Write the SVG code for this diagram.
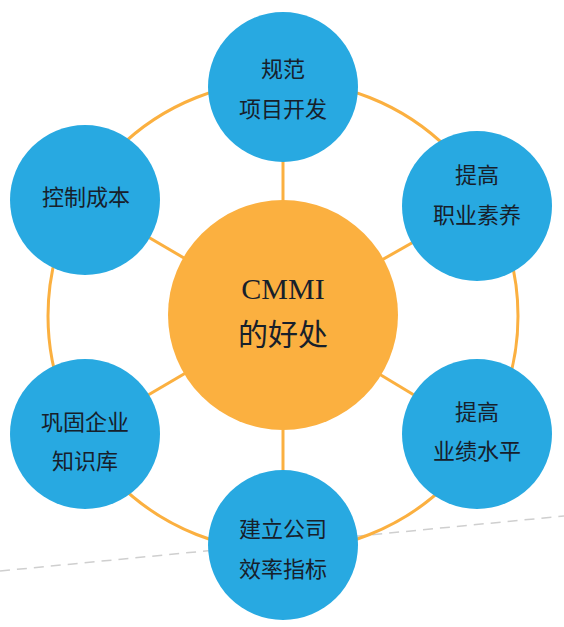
<svg xmlns="http://www.w3.org/2000/svg" width="564" height="627" viewBox="0 0 564 627">
<style>
.sat{fill:#28A9E1;}
.hub{fill:#FBB040;}
.ln{stroke:#FBB040;stroke-width:3;fill:none;}
.t{font-family:"Noto Sans CJK SC","Liberation Serif",serif;font-size:22px;fill:#17202b;text-anchor:middle;dominant-baseline:central;}
.c{font-family:"Liberation Serif","Noto Sans CJK SC",serif;font-size:30px;fill:#17202b;text-anchor:middle;dominant-baseline:central;}
</style>
<rect width="564" height="627" fill="#ffffff"/>
<line x1="0" y1="571" x2="564" y2="516" stroke="#cfcfcf" stroke-width="1.5" stroke-dasharray="10 7"/>
<g id="connectors">
<circle class="ln" cx="283" cy="316" r="235"/>
<line class="ln" x1="283" y1="316" x2="283" y2="87"/>
<line class="ln" x1="283" y1="316" x2="85" y2="200"/>
<line class="ln" x1="283" y1="316" x2="477" y2="206"/>
<line class="ln" x1="283" y1="316" x2="85" y2="432"/>
<line class="ln" x1="283" y1="316" x2="477" y2="433"/>
<line class="ln" x1="283" y1="316" x2="283" y2="545"/>
</g>
<g id="hub">
<circle class="hub" cx="283" cy="315" r="115"/>
<text class="c" x="283" y="288">CMMI</text>
<text class="c" x="283" y="334" font-size="28" font-family="Noto Sans CJK SC,sans-serif">的好处</text>
</g>
<g id="n-top">
<circle class="sat" cx="283" cy="87" r="75"/>
<text class="t" x="283" y="67">规范</text>
<text class="t" x="283" y="107">项目开发</text>
</g>
<g id="n-upper-left">
<circle class="sat" cx="85" cy="200" r="75"/>
<text class="t" x="86" y="195">控制成本</text>
</g>
<g id="n-upper-right">
<circle class="sat" cx="477" cy="206" r="75"/>
<text class="t" x="477" y="173">提高</text>
<text class="t" x="477" y="213">职业素养</text>
</g>
<g id="n-lower-left">
<circle class="sat" cx="85" cy="434" r="75"/>
<text class="t" x="85" y="420">巩固企业</text>
<text class="t" x="85" y="459">知识库</text>
</g>
<g id="n-lower-right">
<circle class="sat" cx="477" cy="434" r="75"/>
<text class="t" x="477" y="410">提高</text>
<text class="t" x="477" y="449">业绩水平</text>
</g>
<g id="n-bottom">
<circle class="sat" cx="283" cy="545" r="75"/>
<text class="t" x="283" y="527">建立公司</text>
<text class="t" x="283" y="567">效率指标</text>
</g>
</svg>
